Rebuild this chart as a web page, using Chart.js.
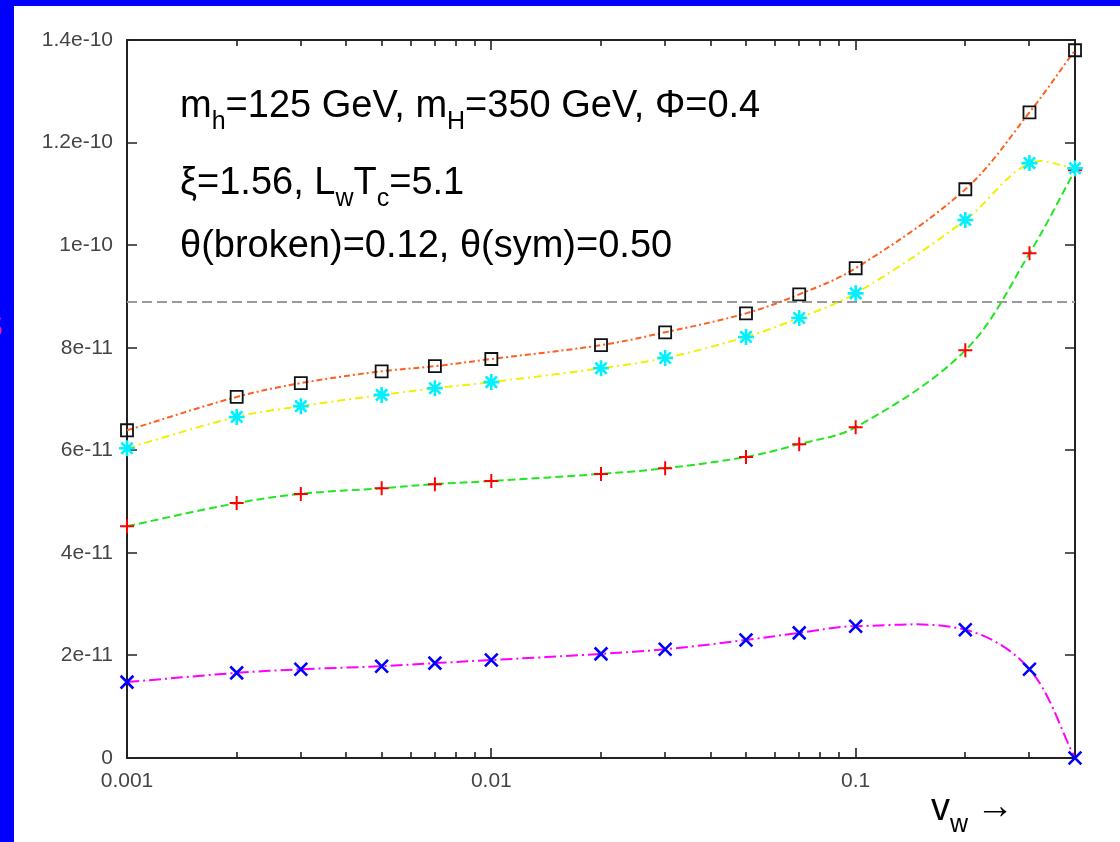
<!DOCTYPE html>
<html>
<head>
<meta charset="utf-8">
<script src="https://cdn.jsdelivr.net/npm/chart.js@4.4.1/dist/chart.umd.min.js"></script>
<style>
  html, body { margin: 0; padding: 0; }
  body {
    width: 1120px; height: 842px; background: #0000ff;
    position: relative; overflow: hidden;
    font-family: "Liberation Sans", Arial, sans-serif;
  }
  #panel { position: absolute; left: 14px; top: 6px; width: 1106px; height: 836px; background: #fff; }
  #panel canvas { position: absolute; left: 0; top: 0; }
  .note { position: absolute; font-size: 38px; line-height: 38px; color: #000; white-space: nowrap; }
  .note .sub { font-size: 25px; position: relative; top: 12px; }
  #cut { position: absolute; left: -20px; top: 308px; color: #ff3300; font-size: 34px; line-height: 34px; }
</style>
</head>
<body>
<div id="cut">S</div>
<div id="panel">
  <canvas id="myChart" width="1106" height="836"></canvas>
  <div class="note" style="left:166px; top:79px">m<span class="sub">h</span>=125 GeV, m<span class="sub">H</span>=350 GeV, Φ=0.4</div>
  <div class="note" style="left:166px; top:156px">ξ=1.56, L<span class="sub">w</span>T<span class="sub">c</span>=5.1</div>
  <div class="note" style="left:166px; top:219px">θ(broken)=0.12, θ(sym)=0.50</div>
  <div class="note" style="left:917px; top:782px">v<span class="sub">w</span></div>
  <div class="note" style="left:962px; top:780px">→</div>
</div>
<script>
// wall velocity values
const vw = [0.001, 0.002, 0.003, 0.005, 0.007, 0.01, 0.02, 0.03, 0.05, 0.07, 0.1, 0.2, 0.3, 0.4]

const squareSeries = [6.39e-11, 7.04e-11, 7.31e-11, 7.54e-11, 7.64e-11, 7.78e-11, 8.05e-11, 8.30e-11, 8.67e-11, 9.04e-11, 9.55e-11, 1.109e-10, 1.259e-10, 1.38e-10]
const starSeries = [6.04e-11, 6.65e-11, 6.86e-11, 7.08e-11, 7.21e-11, 7.33e-11, 7.60e-11, 7.80e-11, 8.21e-11, 8.58e-11, 9.06e-11, 1.049e-10, 1.16e-10, 1.15e-10]
const plusSeries = [4.52e-11, 4.97e-11, 5.15e-11, 5.26e-11, 5.34e-11, 5.40e-11, 5.54e-11, 5.65e-11, 5.87e-11, 6.12e-11, 6.45e-11, 7.95e-11, 9.84e-11, 1.146e-10]
const crossSeries = [1.48e-11, 1.66e-11, 1.73e-11, 1.79e-11, 1.85e-11, 1.91e-11, 2.03e-11, 2.12e-11, 2.30e-11, 2.44e-11, 2.57e-11, 2.50e-11, 1.73e-11, 0]

// observed level (dashed horizontal line)
const refLevel = 8.89e-11

const xTicks = [0.001, 0.01, 0.1]
const xTickLabels = ['0.001', '0.01', '0.1']
const yTicks = [0, 2e-11, 4e-11, 6e-11, 8e-11, 1e-10, 1.2e-10, 1.4e-10]
const yTickLabels = ['0', '2e-11', '4e-11', '6e-11', '8e-11', '1e-10', '1.2e-10', '1.4e-10']

const xMin = 0.001
const xMax = 0.4

const toPoints = (ys) => vw.map((x, i) => ({ x: x, y: ys[i] }))

const series = (ys, line, dash, marker, style, radius, width) => ({
    data: toPoints(ys),
    borderColor: line,
    borderWidth: 2,
    borderDash: dash,
    tension: 0.35,
    pointStyle: style,
    pointRadius: radius,
    pointBorderColor: marker,
    pointBackgroundColor: 'rgba(0,0,0,0)',
    pointBorderWidth: width,
    clip: false
})

// box around the plot with inward tick marks on all four sides
const framePlugin = {
    id: 'frame',
    beforeDatasetsDraw(chart) {
        const { ctx, chartArea: a, scales } = chart
        const x = scales.x, y = scales.y
        ctx.save()
        ctx.strokeStyle = '#222'
        ctx.lineWidth = 2
        ctx.strokeRect(a.left, a.top, a.right - a.left, a.bottom - a.top)
        ctx.lineWidth = 1.6
        ctx.beginPath()
        yTicks.forEach(v => {
            const py = Math.round(y.getPixelForValue(v))
            ctx.moveTo(a.left, py); ctx.lineTo(a.left + 10, py)
            ctx.moveTo(a.right, py); ctx.lineTo(a.right - 10, py)
        })
        xTicks.forEach(decade => {
            for (let k = 1; k <= 9; k++) {
                const v = decade * k
                if (v > xMax + 1e-12) break
                const len = k === 1 ? 10 : 6
                const px = Math.round(x.getPixelForValue(v))
                ctx.moveTo(px, a.bottom); ctx.lineTo(px, a.bottom - len)
                ctx.moveTo(px, a.top); ctx.lineTo(px, a.top + len)
            }
        })
        ctx.stroke()
        ctx.restore()
    }
}

const config = {
    type: 'line',
    data: {
        datasets: [
            series(squareSeries, '#ff6020', [6, 3, 2, 3], '#111', 'rect', 8.5, 1.8),
            series(starSeries, '#f0f000', [8, 4, 2, 4], '#00f0ff', 'star', 8, 2.6),
            series(plusSeries, '#22e622', [8, 4], '#ff0000', 'cross', 7, 2),
            series(crossSeries, '#ff00ff', [12, 4, 2, 4], '#0000ff', 'crossRot', 9, 2.6),
            {
                data: [{ x: xMin, y: refLevel }, { x: xMax, y: refLevel }],
                borderColor: '#9a9a9a',
                borderWidth: 2,
                borderDash: [10, 5],
                pointRadius: 0,
                tension: 0
            }
        ]
    },
    options: {
        responsive: false,
        animation: false,
        events: [],
        layout: { padding: { top: 34, right: 45, left: 0, bottom: 0 } },
        plugins: {
            legend: { display: false },
            tooltip: { enabled: false }
        },
        scales: {
            x: {
                type: 'logarithmic',
                min: xMin,
                max: xMax,
                grid: { display: false, drawTicks: false },
                border: { display: false },
                afterBuildTicks: (scale) => { scale.ticks = xTicks.map(v => ({ value: v })) },
                afterFit: (scale) => { scale.height = 84 },
                ticks: {
                    color: '#444',
                    font: { family: 'Liberation Sans', size: 21 },
                    padding: 11,
                    maxRotation: 0,
                    autoSkip: false,
                    callback: (value, index) => xTickLabels[index]
                }
            },
            y: {
                type: 'linear',
                min: 0,
                max: 1.4e-10,
                grid: { display: false, drawTicks: false },
                border: { display: false },
                afterBuildTicks: (scale) => { scale.ticks = yTicks.map(v => ({ value: v })) },
                afterFit: (scale) => { scale.width = 113 },
                ticks: {
                    color: '#444',
                    font: { family: 'Liberation Sans', size: 21 },
                    padding: 14,
                    autoSkip: false,
                    callback: (value, index) => yTickLabels[index]
                }
            }
        }
    },
    plugins: [framePlugin]
}

const myChart = new Chart(document.getElementById('myChart'), config)
</script>
</body>
</html>
